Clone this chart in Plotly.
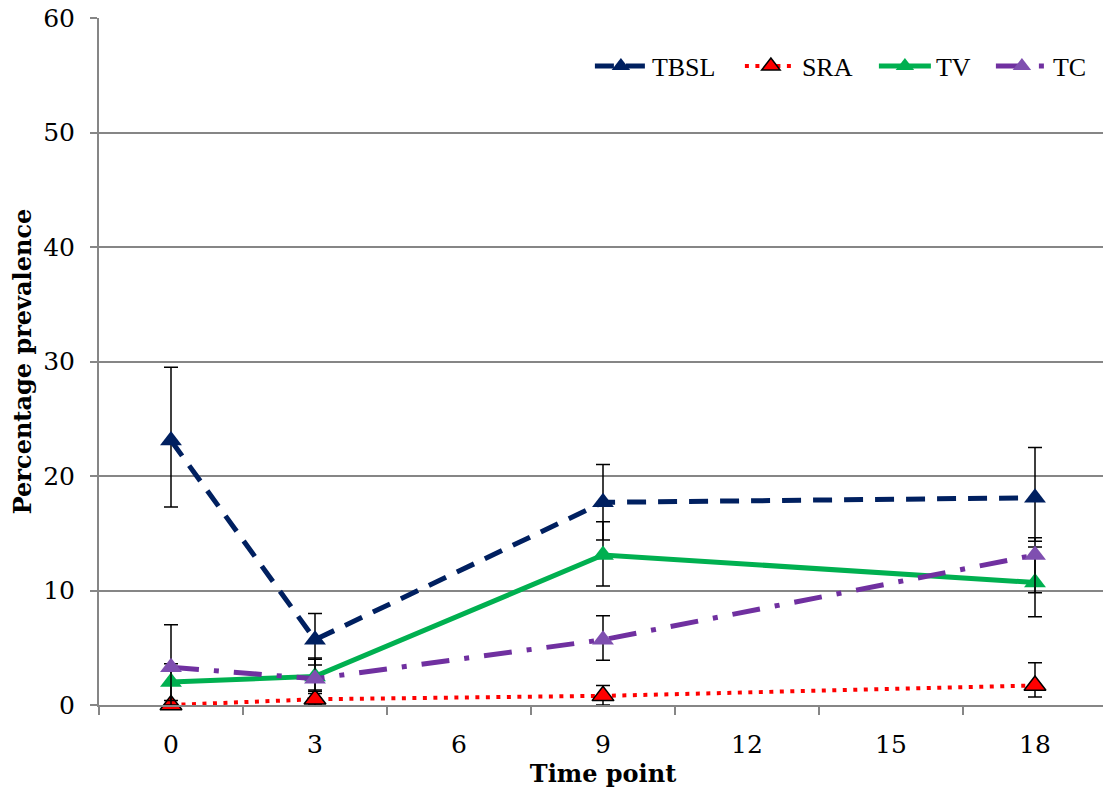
import plotly.graph_objects as go

time = [0, 3, 9, 18]

series_names = ["TBSL", "SRA", "TV", "TC"]

tbsl = [23.1, 5.7, 17.7, 18.1]
tbsl_plus = [6.4, 2.3, 3.3, 4.4]
tbsl_minus = [5.8, 2.2, 3.3, 3.8]

sra = [0.0, 0.5, 0.8, 1.7]
sra_plus = [0.0, 0.5, 0.9, 2.0]
sra_minus = [0.0, 0.5, 0.8, 1.0]

tv = [2.0, 2.5, 13.1, 10.7]
tv_plus = [1.6, 1.6, 2.9, 3.1]
tv_minus = [1.6, 1.3, 2.7, 3.0]

tc = [3.3, 2.3, 5.7, 13.1]
tc_plus = [3.7, 1.7, 2.1, 1.5]
tc_minus = [3.3, 1.0, 1.8, 3.3]

x_ticks = [0, 3, 6, 9, 12, 15, 18]
y_ticks = [0, 10, 20, 30, 40, 50, 60]

err_style = dict(type="data", symmetric=False, color="black", thickness=1.5, width=7)

fig = go.Figure()

fig.add_trace(go.Scatter(
    x=time, y=tbsl, name=series_names[0], mode="lines+markers",
    line=dict(color="#002060", width=5, dash="19px,12px"),
    marker=dict(symbol="triangle-up", size=19, color="#002060"),
    error_y=dict(array=tbsl_plus, arrayminus=tbsl_minus, **err_style),
    cliponaxis=False, legendwidth=83,
))
fig.add_trace(go.Scatter(
    x=time, y=sra, name=series_names[1], mode="lines+markers",
    line=dict(color="#FF0000", width=4, dash="4px,6.5px"),
    marker=dict(symbol="triangle-up", size=19, color="#FF0000",
                line=dict(color="black", width=1.5)),
    error_y=dict(array=sra_plus, arrayminus=sra_minus, **err_style),
    cliponaxis=False, legendwidth=67,
))
fig.add_trace(go.Scatter(
    x=time, y=tv, name=series_names[2], mode="lines+markers",
    line=dict(color="#00B050", width=5),
    marker=dict(symbol="triangle-up", size=19, color="#00B050"),
    error_y=dict(array=tv_plus, arrayminus=tv_minus, **err_style),
    cliponaxis=False, legendwidth=50,
))
fig.add_trace(go.Scatter(
    x=time, y=tc, name=series_names[3], mode="lines+markers",
    line=dict(color="#7030A0", width=5, dash="28px,15px,5px,15px"),
    marker=dict(symbol="triangle-up", size=19, color="#7F4FB0"),
    error_y=dict(array=tc_plus, arrayminus=tc_minus, **err_style),
    cliponaxis=False,
))

fig.update_layout(
    width=1111, height=787,
    margin=dict(l=91, r=12, t=10, b=90),
    paper_bgcolor="white", plot_bgcolor="white",
    font=dict(family="DejaVu Serif", color="black"),
    showlegend=True,
    legend=dict(
        orientation="h", x=0.487, xanchor="left", y=0.93, yanchor="middle",
        font=dict(family="Liberation Serif", size=26, color="black"),
        bgcolor="rgba(0,0,0,0)", itemwidth=52, tracegroupgap=0,
    ),
    xaxis=dict(
        range=[-1.5, 19.5], tickvals=x_ticks, ticktext=[str(v) for v in x_ticks],
        ticks="", showgrid=False, zeroline=False, automargin=False,
        showline=True, linecolor="#868686", linewidth=2,
        tickfont=dict(family="DejaVu Serif", size=25, color="black"),
        ticklabelstandoff=16, ticklabeloverflow="allow",
        minor=dict(ticks="outside", tick0=-1.5, dtick=3, ticklen=8,
                   tickcolor="#868686", tickwidth=2, showgrid=False),
        title=dict(text="<b>Time point</b>", standoff=5,
                   font=dict(family="DejaVu Serif", size=24, color="black")),
    ),
    yaxis=dict(
        range=[0, 60], tickvals=y_ticks, automargin=False,
        ticks="outside", ticklen=7, tickcolor="#868686", tickwidth=2,
        showgrid=True, gridcolor="#868686", gridwidth=1.5,
        zeroline=False, showline=True, linecolor="#868686", linewidth=2,
        tickfont=dict(family="DejaVu Serif", size=25, color="black"),
        ticklabelstandoff=10, ticklabeloverflow="allow",
        title=dict(text="<b>Percentage prevalence</b>", standoff=6,
                   font=dict(family="DejaVu Serif", size=24, color="black")),
    ),
)

fig.write_html("out.html")
